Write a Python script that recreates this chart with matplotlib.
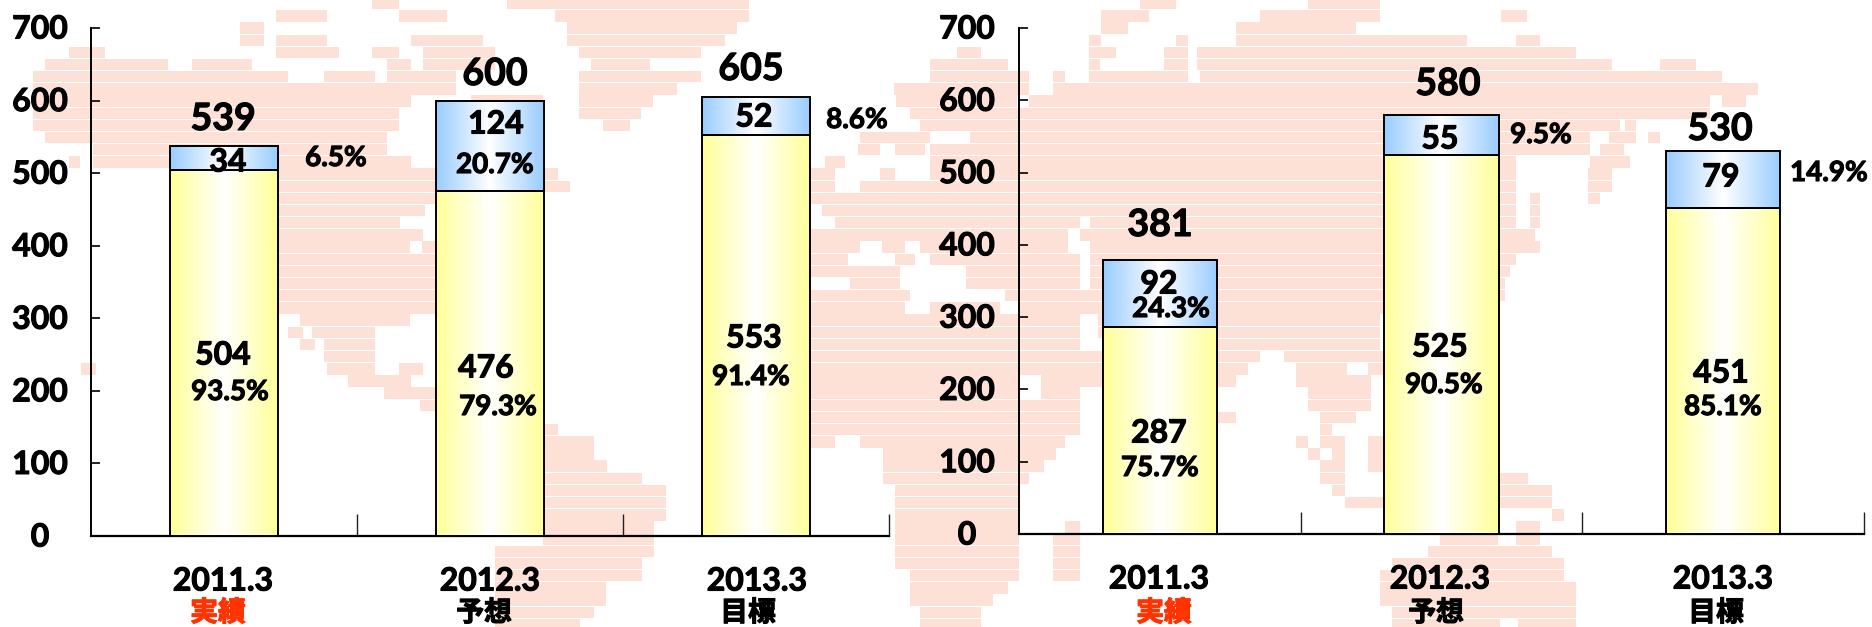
#!/usr/bin/env python3
# -*- coding: utf-8 -*-
import numpy as np
import matplotlib
matplotlib.use('Agg')
import matplotlib.pyplot as plt
import matplotlib.patheffects as pe
from matplotlib.colors import LinearSegmentedColormap

W, H = 1872, 627
plt.rcParams['font.family'] = ['Lato', 'DejaVu Sans']
plt.rcParams['font.weight'] = 'bold'

###############################################################################
## Data
###############################################################################
years = ['2011.3', '2012.3', '2013.3']
status = ['実績', '予想', '目標']
status_colors = ['#FF3300', 'black', 'black']
yticks = [0, 100, 200, 300, 400, 500, 600, 700]

left_lower = [504, 476, 553]
left_upper = [34, 124, 52]
left_total = [539, 600, 605]
left_lower_pct = ['93.5%', '79.3%', '91.4%']
left_upper_pct = ['6.5%', '20.7%', '8.6%']

right_lower = [287, 525, 451]
right_upper = [92, 55, 79]
right_total = [381, 580, 530]
right_lower_pct = ['75.7%', '90.5%', '85.1%']
right_upper_pct = ['24.3%', '9.5%', '14.9%']

# label centres, picture pixels
left_pos = dict(
    total=[(223, 119), (495, 74), (751, 69)],
    upper=[(228, 162), (496, 124), (754, 117)],
    upper_pct=[(336, 158), (495, 165), (857, 120)],
    lower=[(223, 355), (486, 368), (754, 338)],
    lower_pct=[(230, 392), (498, 407), (751, 377)],
    year=[(223, 581), (490, 581), (757, 581)],
    status=[(218, 613), (484, 613), (748, 613)],
)
right_pos = dict(
    total=[(1160, 225), (1448, 84), (1720, 129)],
    upper=[(1159, 284), (1440, 139), (1721, 177)],
    upper_pct=[(1171, 309), (1541, 135), (1829, 173)],
    lower=[(1159, 433), (1440, 347), (1721, 373)],
    lower_pct=[(1160, 468), (1444, 385), (1723, 407)],
    year=[(1159, 579), (1440, 579), (1723, 579)],
    status=[(1164, 613), (1436, 613), (1716, 613)],
)

# background world map: x spans per 12 px row, picture pixels
map_rows = [
    [(372, 399), (507, 749), (1140, 1176), (1308, 1380)],
    [(276, 327), (399, 447), (555, 749), (1101, 1149), (1260, 1380), (1501, 1527)],
    [(240, 264), (567, 737), (1101, 1128), (1236, 1356)],
    [(240, 264), (276, 327), (411, 483), (567, 725), (1089, 1101), (1176, 1188), (1236, 1467), (1516, 1540)],
    [(69, 105), (276, 339), (372, 399), (423, 495), (579, 701), (957, 981), (1089, 1116), (1164, 1188), (1197, 1576)],
    [(45, 168), (192, 252), (387, 411), (423, 495), (591, 650), (930, 1008), (1089, 1100), (1164, 1188), (1197, 1612), (1660, 1696)],
    [(33, 288), (324, 375), (387, 456), (579, 701), (930, 1029), (1053, 1065), (1089, 1188), (1200, 1722)],
    [(33, 456), (579, 677), (894, 1029), (1053, 1758)],
    [(33, 411), (471, 543), (579, 653), (896, 1017), (1029, 1710), (1722, 1746)],
    [(33, 399), (579, 641), (910, 1710)],
    [(33, 399), (603, 630), (920, 1620), (1625, 1636)],
    [(45, 387), (860, 930), (970, 1590), (1609, 1636), (1648, 1660)],
    [(93, 387), (858, 880), (895, 925), (930, 1590), (1600, 1624)],
    [(69, 80), (93, 411), (825, 845), (930, 1516), (1590, 1630)],
    [(279, 558), (810, 835), (880, 895), (930, 1516), (1588, 1612)],
    [(279, 570), (810, 835), (860, 1516), (1588, 1612)],
    [(279, 540), (810, 1516), (1530, 1540), (1588, 1600)],
    [(279, 425), (822, 1516), (1530, 1540)],
    [(279, 400), (835, 1080), (1090, 1516), (1530, 1540)],
    [(279, 423), (810, 1068), (1080, 1535)],
    [(279, 410), (422, 435), (810, 860), (882, 905), (920, 1068), (1090, 1540)],
    [(279, 436), (810, 848), (895, 915), (930, 1080), (1090, 1516)],
    [(279, 436), (810, 900), (966, 1080), (1090, 1510)],
    [(279, 436), (850, 900), (966, 1080), (1090, 1505)],
    [(279, 436), (810, 910), (1005, 1505)],
    [(279, 436), (810, 905), (930, 1000), (1020, 1500)],
    [(300, 410), (810, 1080), (1098, 1380)],
    [(288, 303), (312, 375), (810, 1080), (1098, 1380)],
    [(300, 315), (324, 375), (810, 1080), (1217, 1380)],
    [(324, 375), (810, 1104), (1218, 1260), (1284, 1385)],
    [(81, 96), (327, 375), (399, 423), (810, 1104), (1218, 1248), (1296, 1347), (1368, 1385)],
    [(348, 411), (810, 1019), (1041, 1104), (1218, 1236), (1296, 1371)],
    [(384, 436), (810, 1019), (1041, 1080), (1308, 1371)],
    [(420, 436), (810, 1080), (1308, 1371)],
    [(810, 1080), (1218, 1236), (1320, 1356)],
    [(543, 558), (810, 1080), (1320, 1332)],
    [(543, 594), (810, 835), (860, 1065), (1296, 1308), (1320, 1345), (1368, 1385)],
    [(543, 594), (883, 1056), (1308, 1320), (1332, 1345), (1368, 1385)],
    [(543, 607), (883, 1044), (1320, 1345), (1368, 1385)],
    [(543, 642), (883, 1029), (1320, 1345), (1498, 1528)],
    [(543, 666), (895, 1019), (1332, 1345), (1498, 1552)],
    [(543, 666), (895, 1019), (1345, 1385), (1498, 1552)],
    [(543, 666), (895, 1019), (1552, 1564)],
    [(543, 654), (895, 1019), (1065, 1080), (1516, 1540)],
    [(543, 654), (895, 1019), (1053, 1080), (1440, 1498), (1516, 1540)],
    [(495, 654), (895, 1019), (1053, 1080), (1428, 1552)],
    [(495, 642), (895, 1019), (1053, 1080), (1392, 1564)],
    [(495, 642), (910, 1019), (1053, 1080), (1380, 1564)],
    [(495, 606), (910, 1008), (1380, 1576)],
    [(495, 606), (910, 993), (1380, 1576)],
    [(495, 594), (920, 981), (1392, 1576)],
    [(495, 580), (920, 981), (1392, 1500), (1518, 1576)],
]

###############################################################################
## Helpers
###############################################################################
blue_map = LinearSegmentedColormap.from_list('blue', ['#99CCFF', 'white', '#99CCFF'])
yellow_map = LinearSegmentedColormap.from_list('yellow', ['#FFFF99', 'white', '#FFFF99'])
grad = np.linspace(0, 1, 256).reshape(1, -1)


def px_axes(x0, x1, y0, y1):
    # y0 is the top, y1 the bottom, in picture pixels
    return fig.add_axes([x0/W, 1 - y1/H, (x1 - x0)/W, (y1 - y0)/H])


def put(xy, s, size, color='black', family=None):
    kw = {} if family is None else {'family': family}
    t = fig.text(xy[0]/W, 1 - xy[1]/H, s, fontsize=size, color=color, ha='center',
                 va='center', fontweight='bold', zorder=10, **kw)
    # heavier strokes, the reference text is very dark
    t.set_path_effects([pe.withStroke(linewidth=0.8, foreground=color)])


def gradient_bar(ax, x, height, bottom, cmap, width=0.405):
    bar = ax.bar(x, height, width, bottom=bottom, facecolor='none',
                 edgecolor='black', linewidth=1.4, zorder=4)[0]
    im = ax.imshow(grad, cmap=cmap, aspect='auto', zorder=3,
                   extent=[x - width/2, x + width/2, bottom, bottom + height])
    im.set_clip_path(bar)


def panel(x0, x1, y0, y1, lower, upper, total, lower_pct, upper_pct, pos, tick_x):
    ax = px_axes(x0, x1, y0, y1)
    ax.patch.set_alpha(0)
    xs = np.arange(3)
    for x, lo, up in zip(xs, lower, upper):
        gradient_bar(ax, x, lo, 0, yellow_map)
        gradient_bar(ax, x, up, lo, blue_map)
    ax.set_xlim(-0.5, 2.5)
    ax.set_ylim(0, 700)
    ax.set_yticks(yticks)
    ax.set_yticklabels([])
    ax.set_xticks(xs[:-1] + 0.5)
    ax.set_xticks([2.5], minor=True)
    ax.set_xticklabels([])
    ax.tick_params(axis='y', direction='in', length=6.5, width=1.4, color='#222222')
    ax.tick_params(axis='x', which='both', direction='in', length=16, width=1, color='#222222')
    ax.spines['top'].set_visible(False)
    ax.spines['right'].set_visible(False)
    ax.spines['left'].set_linewidth(1.4)
    ax.spines['bottom'].set_linewidth(1.6)
    for tick in yticks:
        yp = y1 - (y1 - y0)*tick/700 + 1
        put((tick_x, yp), str(tick), 23)
    for i in range(3):
        put(pos['total'][i], str(total[i]), 27)
        put(pos['upper'][i], str(upper[i]), 23)
        put(pos['lower'][i], str(lower[i]), 23)
        put(pos['upper_pct'][i], upper_pct[i], 20)
        put(pos['lower_pct'][i], lower_pct[i], 20)
        put(pos['year'][i], years[i], 23)
        put(pos['status'][i], status[i], 20, color=status_colors[i],
            family=['Noto Sans CJK JP', 'DejaVu Sans'])


###############################################################################
## Figure
###############################################################################
fig = plt.figure(figsize=(W/100, H/100), dpi=100, facecolor='white')

bg = fig.add_axes([0, 0, 1, 1], zorder=-1)
bg.set_xlim(0, W)
bg.set_ylim(H, 0)
bg.axis('off')
for r, spans in enumerate(map_rows):
    top = r*12.17 - 2
    bg.broken_barh([(a, b - a) for a, b in spans], (top, 11.4), facecolor='#FDE0D6', edgecolor='none')

panel(91, 889, 28, 536, left_lower, left_upper, left_total,
      left_lower_pct, left_upper_pct, left_pos, 40)
panel(1019, 1864, 28, 534, right_lower, right_upper, right_total,
      right_lower_pct, right_upper_pct, right_pos, 967)

fig.savefig('out.png', dpi=100)
